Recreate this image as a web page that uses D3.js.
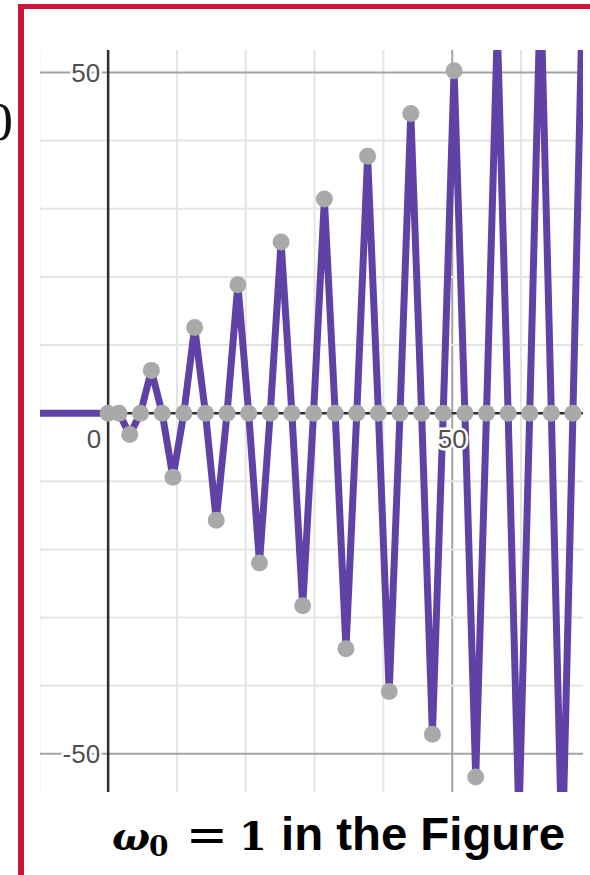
<!DOCTYPE html>
<html>
<head>
<meta charset="utf-8">
<script src="https://cdn.jsdelivr.net/npm/d3@7"></script>
<style>
  html, body { margin: 0; padding: 0; background: #fff; }
  svg { display: block; }
</style>
</head>
<body>
<svg id="chart" width="590" height="875"></svg>
<script>
// ---- data ----
const tValues = [0, 1.57, 3.14, 4.71, 6.28, 7.85, 9.42, 11.0, 12.57, 14.14, 15.71, 17.28, 18.85, 20.42, 21.99, 23.56, 25.13, 26.7, 28.27, 29.85, 31.42, 32.99, 34.56, 36.13, 37.7, 39.27, 40.84, 42.41, 43.98, 45.55, 47.12, 48.69, 50.27, 51.84, 53.41, 54.98, 56.55, 58.12, 59.69, 61.26, 62.83, 64.4, 65.97, 67.54, 69.1, 70.69];
const xValues = [0, 0, -3.14, 0, 6.28, 0, -9.42, 0, 12.57, 0, -15.71, 0, 18.85, 0, -21.99, 0, 25.13, 0, -28.27, 0, 31.42, 0, -34.56, 0, 37.7, 0, -40.84, 0, 43.98, 0, -47.12, 0, 50.27, 0, -53.41, 0, 56.55, 0, -59.69, 0, 62.83, 0, -65.97, 0, 69.1, 0];
const tBefore = [-10, 0];
const xBefore = [0, 0];
const xGridValues = [-10, 0, 10, 20, 30, 40, 50, 60];
const yGridValues = [-50, -40, -30, -20, -10, 0, 10, 20, 30, 40, 50];
const xTickLabels = [0, 50];
const yTickLabels = [50, -50];

// ---- drawing ----
const svg = d3.select("#chart");
const L = 40, R = 583, T = 50, B = 792;
const x = d3.scaleLinear().domain([-9.9, 69.0]).range([L, R]);
const y = d3.scaleLinear().domain([-55.6, 53.3]).range([B, T]);

svg.append("defs").append("clipPath").attr("id", "plotclip")
  .append("rect").attr("x", L).attr("y", T).attr("width", R - L).attr("height", B - T);

const plot = svg.append("g").attr("clip-path", "url(#plotclip)");

// grid
plot.selectAll("line.vg").data(xGridValues.filter(d => d !== 0)).join("line")
  .attr("x1", d => x(d)).attr("x2", d => x(d)).attr("y1", T).attr("y2", B)
  .attr("stroke", d => d % 50 === 0 ? "#a3a3a3" : "#e4e4e4").attr("stroke-width", 2);
plot.selectAll("line.hg").data(yGridValues.filter(d => d !== 0)).join("line")
  .attr("x1", L).attr("x2", R).attr("y1", d => y(d)).attr("y2", d => y(d))
  .attr("stroke", d => d % 50 === 0 ? "#a3a3a3" : "#e4e4e4").attr("stroke-width", 2);

// axes
plot.append("line").attr("x1", x(0)).attr("x2", x(0)).attr("y1", T).attr("y2", B)
  .attr("stroke", "#2e2e2e").attr("stroke-width", 2.5);
plot.append("line").attr("x1", L).attr("x2", R).attr("y1", y(0)).attr("y2", y(0))
  .attr("stroke", "#2e2e2e").attr("stroke-width", 2.5);

// tick labels
const lab = svg.append("g")
  .attr("font-family", "'Liberation Sans', Arial, sans-serif")
  .attr("font-size", 26).attr("fill", "#4f4f4f")
  .attr("stroke", "#fff").attr("stroke-width", 5).attr("paint-order", "stroke")
  .attr("stroke-linejoin", "round");
lab.selectAll("text.yl").data(yTickLabels).join("text")
  .attr("x", x(0) - 8).attr("y", d => y(d)).attr("dy", "0.35em")
  .attr("text-anchor", "end").text(d => d === 50 ? "50" : "-50");
lab.selectAll("text.xl").data(xTickLabels).join("text")
  .attr("x", d => d === 0 ? x(0) - 7 : x(d)).attr("y", y(0) + 35)
  .attr("text-anchor", d => d === 0 ? "end" : "middle").text(d => d);

// curve (sample points joined by straight segments)
const pts = tValues.map((t, i) => [t, xValues[i]]);
const before = tBefore.map((t, i) => [t, xBefore[i]]);
const line = d3.line().x(d => x(d[0])).y(d => y(d[1])).curve(d3.curveLinear);
plot.append("path").datum(before).attr("d", line)
  .attr("fill", "none").attr("stroke", "#6042a6").attr("stroke-width", 7);
plot.append("path").datum(pts).attr("d", line)
  .attr("fill", "none").attr("stroke", "#6042a6").attr("stroke-width", 7)
  .attr("stroke-linejoin", "round");

// dots
plot.selectAll("circle.pt").data(pts).join("circle")
  .attr("cx", d => x(d[0])).attr("cy", d => y(d[1])).attr("r", 8.5)
  .attr("fill", "#a9a9a9");

// red frame
svg.append("line").attr("x1", 21).attr("x2", 21).attr("y1", 4).attr("y2", 875)
  .attr("stroke", "#c8173a").attr("stroke-width", 6);
svg.append("line").attr("x1", 18).attr("x2", 590).attr("y1", 6.5).attr("y2", 6.5)
  .attr("stroke", "#c8173a").attr("stroke-width", 5);

// stray glyph at left edge (cut off in the reference too)
svg.append("text").attr("x", 13).attr("y", 140).attr("text-anchor", "end")
  .attr("font-family", "'Liberation Serif', 'Times New Roman', serif")
  .attr("font-size", 55).attr("fill", "#111").text("0");

// caption
const cap = svg.append("g").attr("fill", "#000");
cap.append("text").attr("x", 112).attr("y", 850)
  .attr("font-family", "'DejaVu Serif', 'Liberation Serif', serif")
  .attr("font-style", "italic").attr("font-weight", "bold").attr("font-size", 40).text("ω");
cap.append("text").attr("x", 149).attr("y", 856)
  .attr("font-family", "'DejaVu Serif', 'Liberation Serif', serif")
  .attr("font-weight", "bold").attr("font-size", 28).text("0");
cap.append("text").attr("x", 207).attr("y", 852).attr("text-anchor", "middle")
  .attr("font-family", "'DejaVu Serif', 'Liberation Serif', serif")
  .attr("font-size", 50).text("=");
cap.append("text").attr("x", 239).attr("y", 850)
  .attr("font-family", "'DejaVu Serif', 'Liberation Serif', serif")
  .attr("font-weight", "bold").attr("font-size", 40).text("1");
cap.append("text").attr("x", 281).attr("y", 850)
  .attr("font-family", "'Liberation Sans', Arial, sans-serif")
  .attr("font-weight", "bold").attr("font-size", 46)
  .attr("textLength", 284).attr("lengthAdjust", "spacingAndGlyphs").text("in the Figure");
</script>
</body>
</html>
